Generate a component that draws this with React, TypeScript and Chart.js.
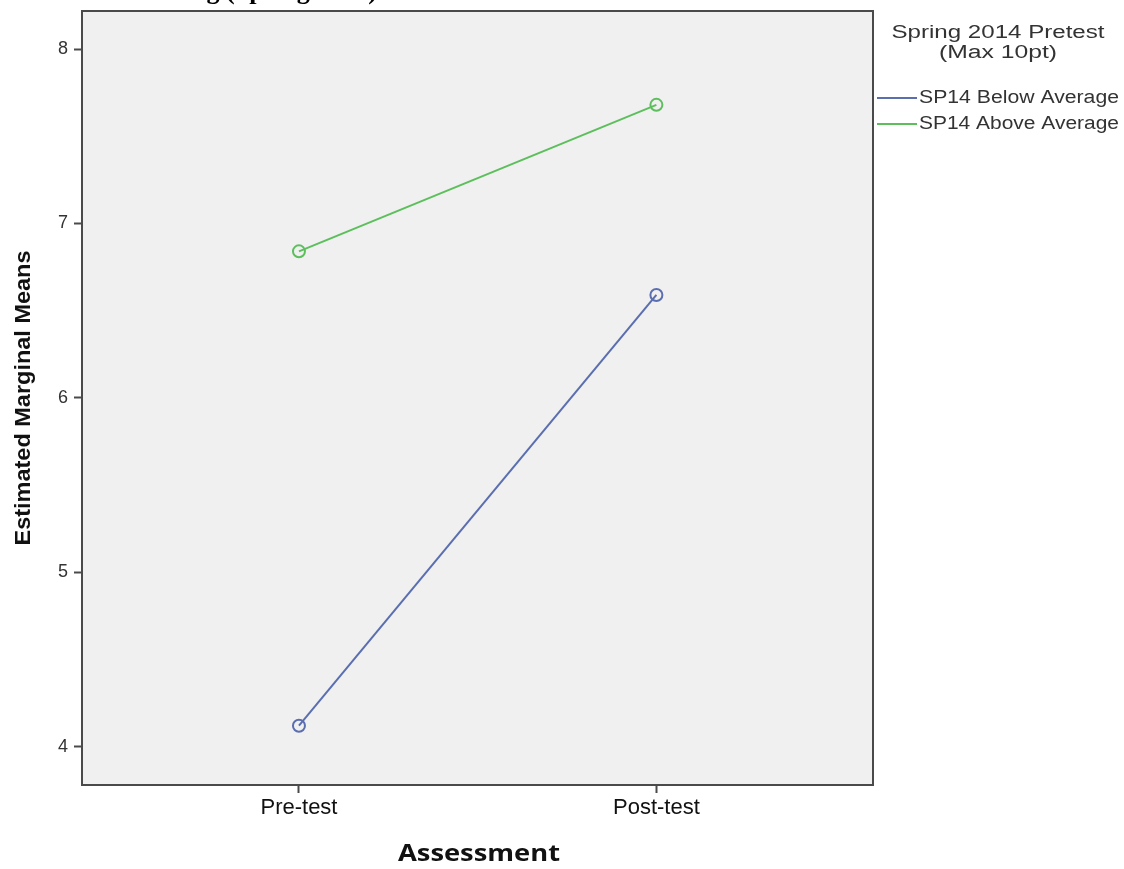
import React, { useEffect, useRef } from "react";
import { Chart, registerables } from "chart.js";

Chart.register(...registerables);

// ---- data ----
const categories = ["Pre-test", "Post-test"];
const seriesNames = ["SP14 Below Average", "SP14 Above Average"];
const belowAverage = [4.12, 6.59];
const aboveAverage = [6.84, 7.68];
const yTickValues = [4, 5, 6, 7, 8];
const legendTitle = ["Spring 2014 Pretest", "(Max 10pt)"];
const xAxisTitle = "Assessment";
const yAxisTitle = "Estimated Marginal Means";
const topTitleFragment = "g (Spring 2014)";

const BLUE = "#5a6eb0";
const GREEN = "#5cbf5c";
const FRAME = "#4a4a4a";

function drawText(
  ctx: CanvasRenderingContext2D,
  text: string,
  x: number,
  y: number,
  font: string,
  color: string,
  align: CanvasTextAlign,
  targetWidth?: number,
  rotate?: number
) {
  ctx.save();
  ctx.font = font;
  ctx.fillStyle = color;
  ctx.textBaseline = "middle";
  ctx.textAlign = align;
  ctx.translate(x, y);
  if (rotate) ctx.rotate(rotate);
  if (targetWidth) {
    const w = ctx.measureText(text).width;
    ctx.scale(targetWidth / w, 1);
  }
  ctx.fillText(text, 0, 0);
  ctx.restore();
}

const decor = {
  id: "decor",
  beforeDraw(chart: any) {
    const { ctx, chartArea: a } = chart;
    ctx.save();
    ctx.fillStyle = "#ffffff";
    ctx.fillRect(0, 0, chart.width, chart.height);
    ctx.fillStyle = "#f0f0f0";
    ctx.fillRect(a.left, a.top, a.right - a.left, a.bottom - a.top);
    ctx.restore();
  },
  afterDraw(chart: any) {
    const { ctx, chartArea: a } = chart;
    ctx.save();
    ctx.strokeStyle = FRAME;
    ctx.lineWidth = 2;
    ctx.strokeRect(a.left, a.top, a.right - a.left, a.bottom - a.top);
    ctx.restore();

    // top clipped title
    ctx.save();
    ctx.font = "bold 26px 'Liberation Serif'";
    ctx.fillStyle = "#000";
    ctx.textAlign = "right";
    ctx.textBaseline = "alphabetic";
    ctx.fillText(topTitleFragment, 377, -1);
    ctx.restore();

    // axis titles
    drawText(ctx, yAxisTitle, 24, 398, "bold 22px 'Liberation Sans'", "#111", "center", 295, -Math.PI / 2);
    drawText(ctx, xAxisTitle, 479, 854, "bold 24px 'Open Sans'", "#111", "center", 162);

    // legend
    drawText(ctx, legendTitle[0], 998, 33, "18px 'Liberation Sans'", "#333", "center", 213);
    drawText(ctx, legendTitle[1], 998, 53, "18px 'Liberation Sans'", "#333", "center", 118);
    const colors = [BLUE, GREEN];
    const ys = [98, 124];
    seriesNames.forEach((name, i) => {
      ctx.save();
      ctx.strokeStyle = colors[i];
      ctx.lineWidth = 2;
      ctx.beginPath();
      ctx.moveTo(877, ys[i]);
      ctx.lineTo(917, ys[i]);
      ctx.stroke();
      ctx.restore();
      drawText(ctx, name, 919, ys[i], "18px 'Liberation Sans'", "#333", "left", 200);
    });
  },
};

export default function App() {
  const ref = useRef<HTMLCanvasElement | null>(null);
  useEffect(() => {
    if (!ref.current) return;
    const mk = (vals: number[]) => vals.map((v, i) => ({ x: i, y: v }));
    const chart = new Chart(ref.current, {
      type: "line",
      data: {
        datasets: [
          {
            label: seriesNames[0],
            data: mk(belowAverage),
            borderColor: BLUE,
            backgroundColor: "transparent",
            borderWidth: 2,
            pointRadius: 6,
            pointBorderWidth: 2,
            pointBorderColor: BLUE,
            pointBackgroundColor: "transparent",
          },
          {
            label: seriesNames[1],
            data: mk(aboveAverage),
            borderColor: GREEN,
            backgroundColor: "transparent",
            borderWidth: 2,
            pointRadius: 6,
            pointBorderWidth: 2,
            pointBorderColor: GREEN,
            pointBackgroundColor: "transparent",
          },
        ],
      },
      options: {
        responsive: false,
        animation: false,
        layout: { padding: { left: 0, top: 11, right: 251, bottom: 0 } },
        plugins: { legend: { display: false }, tooltip: { enabled: false }, title: { display: false } },
        scales: {
          x: {
            type: "linear",
            min: -0.607,
            max: 1.606,
            afterFit: (s: any) => {
              s.height = 84;
              s.paddingLeft = 0;
              s.paddingRight = 0;
            },
            afterBuildTicks: (s: any) => {
              s.ticks = categories.map((_, i) => ({ value: i }));
            },
            ticks: {
              callback: (v: any) => categories[v as number] ?? "",
              font: { family: "'Liberation Sans'", size: 22 },
              color: "#111",
              padding: 2,
              maxRotation: 0,
            },
            grid: { drawOnChartArea: false, drawTicks: true, tickLength: 8, color: FRAME, tickWidth: 2 },
            border: { display: true, color: FRAME, width: 2 },
          },
          y: {
            type: "linear",
            min: 3.78,
            max: 8.218,
            afterFit: (s: any) => {
              s.width = 82;
              s.paddingTop = 0;
              s.paddingBottom = 0;
            },
            afterBuildTicks: (s: any) => {
              s.ticks = yTickValues.map((v) => ({ value: v }));
            },
            ticks: {
              font: { family: "'Liberation Sans'", size: 18 },
              color: "#333",
              padding: 6,
            },
            grid: { drawOnChartArea: false, drawTicks: true, tickLength: 8, color: FRAME, tickWidth: 2 },
            border: { display: true, color: FRAME, width: 2 },
          },
        },
      },
      plugins: [decor],
    });
    return () => chart.destroy();
  }, []);
  return (
    <div style={{ position: "fixed", left: 0, top: 0, width: 1124, height: 869, background: "#fff" }}>
      <canvas ref={ref} width={1124} height={869} style={{ width: 1124, height: 869, display: "block" }} />
    </div>
  );
}
